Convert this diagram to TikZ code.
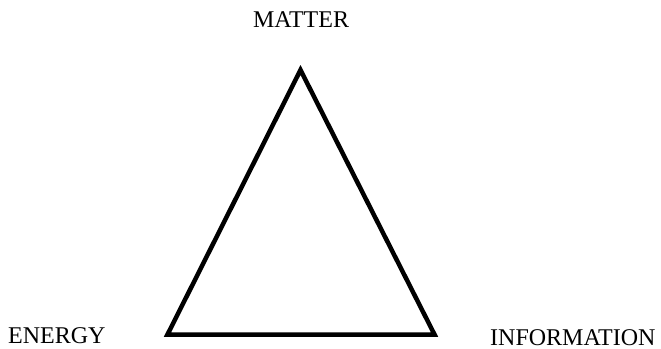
\documentclass[tikz,border=0pt]{standalone}
\usepackage{fontspec}
\setmainfont{Liberation Serif}
\begin{document}
\begin{tikzpicture}[x=1pt,y=-1pt,
  lbl/.style={inner sep=0pt,text depth=0pt,font=\fontsize{24}{28}\selectfont},
  edge/.style={line width=4.5pt,line join=miter}]
\useasboundingbox (0,0) rectangle (661,348);
\coordinate (m) at (300.5,70);
\coordinate (e) at (167.5,334.5);
\coordinate (i) at (434.5,334.5);
\draw[edge] (m) -- (e) -- (i) -- cycle;
\node[lbl,anchor=base] (matter) at (301,27.5) {MATTER};
\node[lbl,anchor=base west] (energy) at (8,343) {ENERGY};
\node[lbl,anchor=base west] (info) at (490,345) {INFORMATION};
\end{tikzpicture}
\end{document}
